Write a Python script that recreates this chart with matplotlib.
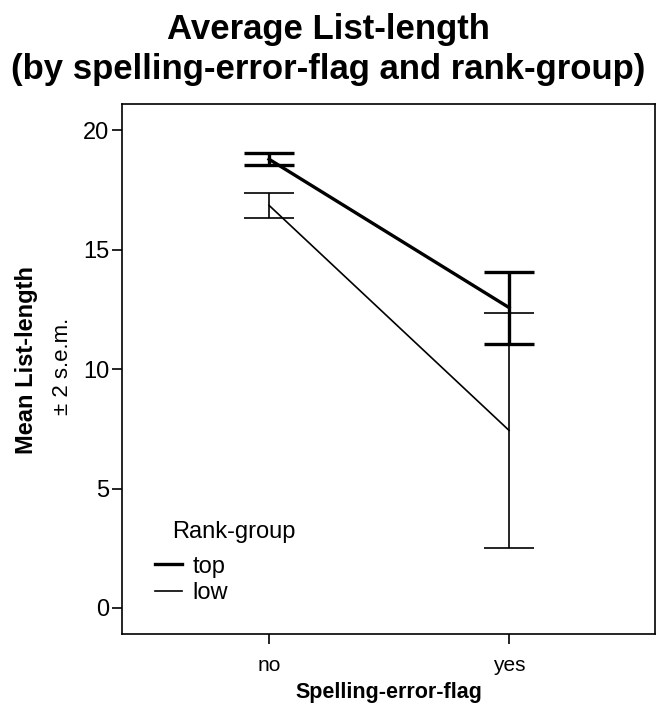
import numpy as np
import matplotlib
matplotlib.use("Agg")
import matplotlib.pyplot as plt
from matplotlib.lines import Line2D

plt.rcParams['font.family'] = ['Liberation Sans', 'DejaVu Sans']

# data (mean and +/- 2 s.e.m. half width)
categories = ['no', 'yes']
top_mean = [18.78, 12.57]
top_err = [0.25, 1.51]
low_mean = [16.85, 7.43]
low_err = [0.53, 4.93]
y_ticks = [0, 5, 10, 15, 20]

x = np.arange(len(categories))
lw_top, lw_low = 2.4, 1.2

fig = plt.figure(figsize=(6.57, 7.10), dpi=100)
ax = fig.add_axes([0.1857, 0.107, 0.8113, 0.7465])

ax.errorbar(x, top_mean, yerr=top_err, color='black', lw=lw_top,
            capsize=18, capthick=lw_top)
ax.errorbar(x, low_mean, yerr=low_err, color='black', lw=lw_low,
            capsize=18, capthick=lw_low)

ax.set_xlim(-0.6125, 1.608)
ax.set_ylim(-1.09, 21.09)
ax.set_xticks(x)
ax.set_xticklabels(categories, fontsize=15)
ax.set_yticks(y_ticks)
ax.tick_params(axis='y', labelsize=17, length=7, width=1.2, pad=2)
ax.tick_params(axis='x', length=7, width=1.2, pad=9)
for s in ax.spines.values():
    s.set_linewidth(1.2)

ax.set_xlabel('Spelling-error-flag', fontsize=15.5, fontweight='bold', labelpad=5)

fig.text(0.040, 0.493, 'Mean List-length', rotation=90, fontsize=17,
         fontweight='bold', ha='center', va='center')
fig.text(0.095, 0.4845, '\u00b1 2 s.e.m.', rotation=90, fontsize=16,
         ha='center', va='center')

# legend: handles mirror the two line styles
handles = [Line2D([], [], color='black', lw=lw_top),
           Line2D([], [], color='black', lw=lw_low)]
ax.legend(handles, ['top', 'low'], loc='lower left', frameon=False,
          fontsize=17, handlelength=1.15, handletextpad=0.45,
          labelspacing=0.2, borderpad=0, borderaxespad=0,
          bbox_to_anchor=(0.062, 0.056))
ax.text(0.094, 0.192, 'Rank-group', transform=ax.transAxes, fontsize=17,
        ha='left', va='center')

fig.text(0.5, 0.958, 'Average List-length', fontsize=25, fontweight='bold',
         ha='center', va='center')
fig.text(0.5, 0.902, '(by spelling-error-flag and rank-group)', fontsize=25,
         fontweight='bold', ha='center', va='center')

fig.savefig('out.png', dpi=100)
